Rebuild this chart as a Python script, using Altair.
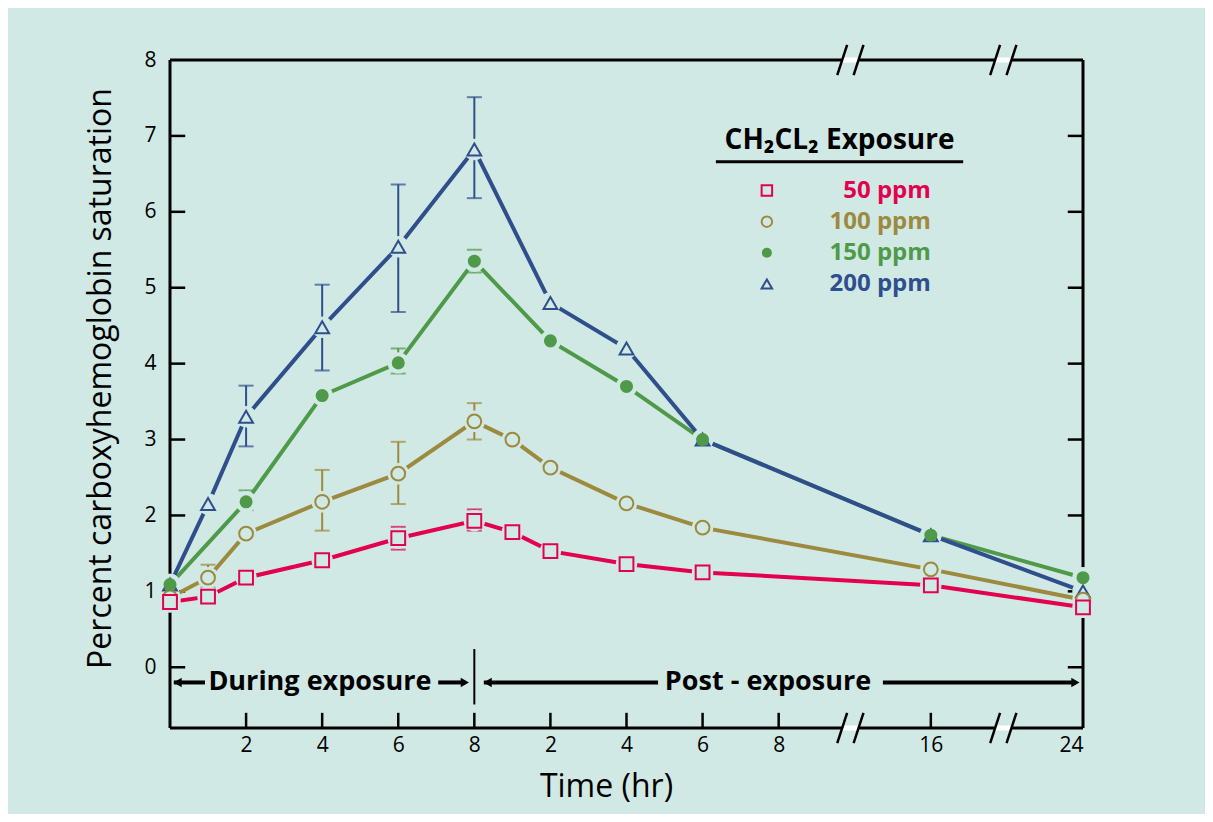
import altair as alt
import pandas as pd

FONT = "Open Sans"
BG = "#d1e9e4"

series = ["50 ppm", "100 ppm", "150 ppm", "200 ppm"]
colors = ["#e2004f", "#9c8a3f", "#4f9a48", "#2f4f8c"]

# x positions: 0-8 = hours during exposure; 8+h = hours post exposure (to 8h),
# 20 = 16 h post, 24 = 24 h post (broken axis)
x50 = [0, 1, 2, 4, 6, 8, 9, 10, 12, 14, 20, 24]
y50 = [0.86, 0.93, 1.18, 1.41, 1.70, 1.93, 1.78, 1.53, 1.36, 1.25, 1.08, 0.79]
x100 = [0, 1, 2, 4, 6, 8, 9, 10, 12, 14, 20, 24]
y100 = [0.92, 1.18, 1.76, 2.18, 2.55, 3.24, 3.00, 2.63, 2.16, 1.84, 1.29, 0.89]
x150 = [0, 2, 4, 6, 8, 10, 12, 14, 20, 24]
y150 = [1.09, 2.18, 3.58, 4.01, 5.35, 4.30, 3.70, 3.00, 1.74, 1.18]
x200 = [0, 1, 2, 4, 6, 8, 10, 12, 14, 20, 24]
y200 = [1.09, 2.15, 3.30, 4.48, 5.54, 6.82, 4.80, 4.20, 3.00, 1.74, 1.00]

# error bars (series, x, low, high)
err_series = ["50 ppm", "50 ppm", "100 ppm", "100 ppm", "100 ppm", "100 ppm",
              "150 ppm", "150 ppm", "150 ppm", "200 ppm", "200 ppm", "200 ppm", "200 ppm"]
err_x = [6, 8, 1, 4, 6, 8, 2, 6, 8, 2, 4, 6, 8]
err_lo = [1.55, 1.80, 1.05, 1.80, 2.15, 3.00, 2.07, 3.87, 5.20, 2.91, 3.91, 4.68, 6.18]
err_hi = [1.85, 2.08, 1.35, 2.60, 2.97, 3.48, 2.33, 4.20, 5.50, 3.71, 5.04, 6.36, 7.51]

x_tick_positions = [2, 4, 6, 8, 10, 12, 14, 16, 20]
x_label_positions = [2, 4, 6, 8, 10, 12, 14, 16, 20, 24]
y_ticks = [0, 1, 2, 3, 4, 5, 6, 7]
y_labels = [0, 1, 2, 3, 4, 5, 6, 7, 8]

rows = []
for s, xs_, ys_ in zip(series, [x50, x100, x150, x200], [y50, y100, y150, y200]):
    for xv, yv in zip(xs_, ys_):
        rows.append({"series": s, "x": xv, "y": yv})
df = pd.DataFrame(rows)
err = pd.DataFrame({"series": err_series, "x": err_x, "lo": err_lo, "hi": err_hi})

xs = alt.Scale(domain=[0, 24], nice=False, zero=False)
ys = alt.Scale(domain=[-0.8, 8], nice=False, zero=False)
cscale = alt.Scale(domain=series, range=colors)

x_axis = alt.Axis(values=x_label_positions, ticks=False, domain=False, grid=False,
                  labelExpr="datum.value <= 8 ? datum.value : (datum.value <= 16 ? datum.value - 8 : (datum.value == 20 ? 16 : 24))",
                  labelFontSize=21, labelFont=FONT, labelColor="black", labelPadding=6,
                  title="Time (hr)", titleFontSize=32, titleFont=FONT, titleFontWeight="normal",
                  titleColor="black", titlePadding=16, titleX=436)
y_axis = alt.Axis(values=y_labels, ticks=False, domain=False, grid=False, format="d",
                  labelFontSize=21, labelFont=FONT, labelColor="black", labelPadding=14,
                  title="Percent carboxyhemoglobin saturation", titleFontSize=32, titleFont=FONT,
                  titleFontWeight="normal", titleColor="black", titlePadding=26, titleY=318)


def X(f="x"):
    return alt.X(f"{f}:Q", scale=xs, axis=x_axis)


def Y(f="y"):
    return alt.Y(f"{f}:Q", scale=ys, axis=y_axis)


layers = []

# frame segments (data units)
frame = pd.DataFrame({
    "x": [0, 24, 0, 18.1, 22.12, 0, 18.1, 22.12],
    "x2": [0, 24, 17.67, 21.69, 24, 17.67, 21.69, 24],
    "y": [-0.8, -0.8, 8, 8, 8, -0.8, -0.8, -0.8],
    "y2": [8, 8, 8, 8, 8, -0.8, -0.8, -0.8],
})
layers.append(alt.Chart(frame).mark_rule(color="black", strokeWidth=3).encode(
    x=X(), x2="x2:Q", y=Y(), y2="y2:Q"))

# break patches and slashes
patch = pd.DataFrame({"x": [17.67, 21.69, 17.67, 21.69], "x2": [18.1, 22.12, 18.1, 22.12],
                      "y": [8, 8, -0.8, -0.8]})
layers.append(alt.Chart(patch).mark_rule(color="white", strokeWidth=5).encode(
    x=X(), x2="x2:Q", y=Y()))
slash_x = [17.54, 17.97, 21.56, 21.99]
slashes = pd.DataFrame({
    "x": slash_x * 2,
    "x2": [v + 0.26 for v in slash_x] * 2,
    "y": [7.8] * 4 + [-1.0] * 4,
    "y2": [8.2] * 4 + [-0.6] * 4,
})
layers.append(alt.Chart(slashes).mark_rule(color="black", strokeWidth=2.5).encode(
    x=X(), x2="x2:Q", y=Y(), y2="y2:Q"))

# inward ticks
tk = pd.DataFrame({"x": x_tick_positions})
layers.append(alt.Chart(tk).mark_rule(color="black", strokeWidth=2.5).encode(
    x=X(), y=alt.datum(-0.8, scale=ys), y2=alt.datum(-0.6)))
ytk = pd.DataFrame({"y": y_ticks})
layers.append(alt.Chart(ytk).mark_rule(color="black", strokeWidth=2.5).encode(
    y=Y(), x=alt.datum(0, scale=xs), x2=alt.datum(0.4)))
layers.append(alt.Chart(ytk).mark_rule(color="black", strokeWidth=2.5).encode(
    y=Y(), x=alt.datum(23.6, scale=xs), x2=alt.datum(24)))

# annotations
ann = pd.DataFrame({"x": [3.94, 15.72], "y": [-0.2, -0.2], "t": ["During exposure", "Post - exposure"]})
layers.append(alt.Chart(ann).mark_text(font=FONT, fontSize=27, fontWeight="bold", color="black",
                                       baseline="middle").encode(x=X(), y=Y(), text="t:N"))
arrows = pd.DataFrame({"x": [0.1, 7.05, 8.25, 18.74], "x2": [0.92, 7.75, 12.83, 23.8],
                       "y": [-0.2] * 4})
layers.append(alt.Chart(arrows).mark_rule(color="black", strokeWidth=4).encode(
    x=X(), x2="x2:Q", y=Y()))
heads = pd.DataFrame({"x": [0.2, 7.75, 8.35, 23.8], "y": [-0.2] * 4,
                      "shape": ["triangle-left", "triangle-right", "triangle-left", "triangle-right"]})
layers.append(alt.Chart(heads).mark_point(filled=True, color="black", opacity=1, size=90).encode(
    x=X(), y=Y(), shape=alt.Shape("shape:N", scale=None, legend=None)))
div = pd.DataFrame({"x": [8], "y": [0.24], "y2": [-0.49]})
layers.append(alt.Chart(div).mark_rule(color="black", strokeWidth=2).encode(
    x=X(), y=Y(), y2="y2:Q"))

# data lines
layers.append(alt.Chart(df).mark_line(strokeWidth=4).encode(
    x=X(), y=Y(), color=alt.Color("series:N", scale=cscale, legend=None), detail="series:N"))

# error bars
layers.append(alt.Chart(err).mark_rule(strokeWidth=2).encode(
    x=X(), y=Y("lo"), y2="hi:Q", color=alt.Color("series:N", scale=cscale, legend=None)))
for f in ["lo", "hi"]:
    layers.append(alt.Chart(err).mark_tick(orient="horizontal", size=15, thickness=2).encode(
        x=X(), y=Y(f), color=alt.Color("series:N", scale=cscale, legend=None)))

# halos
layers.append(alt.Chart(df).mark_circle(color=BG, opacity=1, size=460).encode(x=X(), y=Y()))

# markers
marker_style = {
    "50 ppm": dict(shape="square", filled=False, size=190),
    "100 ppm": dict(shape="circle", filled=False, size=190),
    "150 ppm": dict(shape="circle", filled=True, size=170),
    "200 ppm": dict(shape="triangle-up", filled=False, size=190),
}
order = ["200 ppm", "100 ppm", "50 ppm", "150 ppm"]
for s in order:
    st = marker_style[s]
    c = colors[series.index(s)]
    sub = df[df.series == s]
    if st["filled"]:
        m = alt.Chart(sub).mark_point(shape=st["shape"], filled=True, color=c, opacity=1, size=st["size"])
    else:
        m = alt.Chart(sub).mark_point(shape=st["shape"], filled=False, fill=BG, fillOpacity=1, stroke=c,
                                      strokeWidth=2, opacity=1, size=st["size"])
    layers.append(m.encode(x=X(), y=Y()))

# legend
leg = pd.DataFrame({"x": [15.69] * 4, "lx": [20.0] * 4, "y": [6.28, 5.87, 5.46, 5.05], "series": series})
for i, s in enumerate(series):
    st = marker_style[s]
    c = colors[i]
    sub = leg[leg.series == s]
    if st["filled"]:
        m = alt.Chart(sub).mark_point(shape=st["shape"], filled=True, color=c, opacity=1, size=100)
    else:
        m = alt.Chart(sub).mark_point(shape=st["shape"], filled=False, stroke=c, strokeWidth=2,
                                      opacity=1, size=110)
    layers.append(m.encode(x=X(), y=Y()))
layers.append(alt.Chart(leg).mark_text(font=FONT, fontSize=24, fontWeight="bold", align="right",
                                       baseline="middle").encode(
    x=X("lx"), y=Y(), text="series:N", color=alt.Color("series:N", scale=cscale, legend=None)))
legt = pd.DataFrame({"x": [17.6], "y": [6.93], "t": ["CH₂CL₂ Exposure"]})
layers.append(alt.Chart(legt).mark_text(font=FONT, fontSize=28, fontWeight="bold", color="black",
                                        baseline="middle").encode(x=X(), y=Y(), text="t:N"))
legl = pd.DataFrame({"x": [14.35], "x2": [20.85], "y": [6.66]})
layers.append(alt.Chart(legl).mark_rule(color="black", strokeWidth=3).encode(
    x=X(), x2="x2:Q", y=Y()))

chart = alt.layer(*layers).properties(
    width=913, height=668, background=BG,
    autosize=alt.AutoSizeParams(type="none"),
    padding={"left": 162, "top": 52, "right": 122, "bottom": 86},
).configure_view(stroke=None)

chart.save("out.html", embed_options={"renderer": "svg", "actions": False})
